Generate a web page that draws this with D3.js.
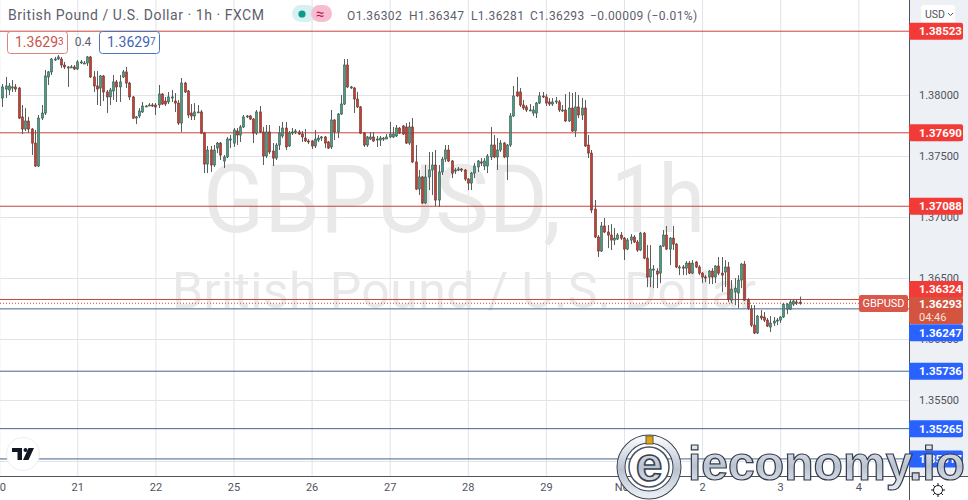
<!DOCTYPE html>
<html>
<head>
<meta charset="utf-8">
<style>
  html, body { margin: 0; background: #fff; overflow: hidden; }
  text { font-family: Roboto, sans-serif; }
</style>
</head>
<body>
<svg width="968" height="500"></svg>
<script src="https://cdn.jsdelivr.net/npm/d3@7"></script>
<script>
// hourly GBPUSD candles, first bar is number -23 (bar 0 = 21st 00:00)
const firstBar = -23;

const opens = [
  1.37975,1.38049,1.38041,1.38057,1.38066,1.38057,1.37820,1.37721,1.37787,1.37721,
  1.37606,1.37418,1.37811,1.37852,1.38148,1.38189,1.38295,1.38295,1.38295,1.38246,
  1.38230,1.38230,1.38230,1.38213,1.38271,1.38262,1.38262,1.38312,1.38148,1.38074,
  1.38057,1.38156,1.38025,1.37984,1.38033,1.38107,1.38066,1.38148,1.38189,1.38098,
  1.37984,1.37811,1.37828,1.37861,1.37910,1.37918,1.37918,1.37918,1.37918,1.38008,
  1.37951,1.37943,1.37975,1.37951,1.37934,1.37770,1.38098,1.38033,1.37852,1.37828,
  1.37861,1.37861,1.37688,1.37434,1.37549,1.37426,1.37565,1.37606,1.37459,1.37492,
  1.37639,1.37606,1.37705,1.37672,1.37738,1.37820,1.37828,1.37803,1.37688,1.37861,
  1.37697,1.37500,1.37697,1.37541,1.37483,1.37590,1.37664,1.37729,1.37582,1.37697,
  1.37697,1.37697,1.37680,1.37647,1.37623,1.37623,1.37582,1.37631,1.37647,1.37656,
  1.37615,1.37574,1.37795,1.37697,1.37844,1.37926,1.38246,1.38066,1.38057,1.37967,
  1.37902,1.37688,1.37590,1.37639,1.37656,1.37639,1.37631,1.37639,1.37639,1.37656,
  1.37656,1.37664,1.37729,1.37746,1.37738,1.37606,1.37738,1.37451,1.37229,1.37328,
  1.37115,1.37328,1.37385,1.37426,1.37139,1.37369,1.37475,1.37549,1.37459,1.37377,
  1.37393,1.37393,1.37385,1.37311,1.37278,1.37360,1.37410,1.37451,1.37418,1.37418,
  1.37492,1.37590,1.37492,1.37549,1.37606,1.37492,1.37590,1.37828,1.38025,1.38025,
  1.37918,1.37902,1.37877,1.37852,1.37852,1.37934,1.37992,1.37984,1.37943,1.37926,
  1.37943,1.37943,1.37877,1.37877,1.37787,1.37893,1.37705,1.37902,1.37836,1.37893,
  1.37590,1.37524,1.37065,1.36836,1.36721,1.36926,1.36877,1.36852,1.36811,1.36819,
  1.36852,1.36827,1.36737,1.36811,1.36836,1.36795,1.36729,1.36868,1.36663,1.36508,
  1.36573,1.36557,1.36540,1.36762,1.36852,1.36737,1.36827,1.36778,1.36590,1.36590,
  1.36581,1.36622,1.36540,1.36631,1.36590,1.36540,1.36508,1.36508,1.36557,1.36508,
  1.36598,1.36540,1.36549,1.36590,1.36319,1.36385,1.36377,1.36483,1.36614,1.36319,
  1.36245,1.36114,1.36049,1.36188,1.36180,1.36155,1.36098,1.36131,1.36147,1.36155,
  1.36180,1.36245,1.36245,1.36286,1.36303,1.36302
];
const closes = [
  1.38066,1.38074,1.38074,1.38066,1.38049,1.37811,1.37721,1.37787,1.37721,1.37606,
  1.37418,1.37811,1.37852,1.38156,1.38189,1.38295,1.38295,1.38312,1.38246,1.38230,
  1.38230,1.38230,1.38213,1.38271,1.38271,1.38262,1.38312,1.38148,1.38074,1.38049,
  1.38156,1.38025,1.37984,1.38041,1.38107,1.38066,1.38107,1.38189,1.38098,1.37984,
  1.37811,1.37820,1.37869,1.37910,1.37910,1.37918,1.37910,1.37902,1.38008,1.37926,
  1.37926,1.37984,1.37984,1.37934,1.37770,1.38098,1.38025,1.37836,1.37828,1.37861,
  1.37861,1.37688,1.37434,1.37549,1.37426,1.37549,1.37606,1.37508,1.37492,1.37639,
  1.37639,1.37713,1.37672,1.37738,1.37820,1.37828,1.37803,1.37688,1.37861,1.37697,
  1.37500,1.37697,1.37533,1.37483,1.37590,1.37688,1.37729,1.37574,1.37688,1.37697,
  1.37705,1.37680,1.37656,1.37623,1.37615,1.37582,1.37639,1.37647,1.37656,1.37606,
  1.37565,1.37795,1.37697,1.37844,1.37926,1.38246,1.38066,1.38066,1.37967,1.37902,
  1.37688,1.37590,1.37656,1.37656,1.37623,1.37639,1.37647,1.37647,1.37656,1.37680,
  1.37680,1.37729,1.37688,1.37680,1.37606,1.37738,1.37451,1.37229,1.37328,1.37115,
  1.37328,1.37385,1.37426,1.37139,1.37369,1.37475,1.37549,1.37459,1.37360,1.37385,
  1.37393,1.37385,1.37311,1.37278,1.37360,1.37418,1.37459,1.37442,1.37459,1.37500,
  1.37590,1.37492,1.37549,1.37606,1.37492,1.37590,1.37828,1.37992,1.37992,1.37918,
  1.37893,1.37877,1.37877,1.37877,1.37934,1.37992,1.37984,1.37934,1.37926,1.37943,
  1.37951,1.37877,1.37877,1.37787,1.37893,1.37705,1.37902,1.37836,1.37893,1.37582,
  1.37524,1.37057,1.36836,1.36721,1.36926,1.36877,1.36852,1.36811,1.36827,1.36852,
  1.36827,1.36737,1.36811,1.36836,1.36795,1.36729,1.36868,1.36663,1.36508,1.36573,
  1.36573,1.36532,1.36762,1.36852,1.36737,1.36827,1.36778,1.36590,1.36590,1.36581,
  1.36622,1.36540,1.36622,1.36590,1.36540,1.36508,1.36500,1.36557,1.36508,1.36598,
  1.36540,1.36524,1.36590,1.36327,1.36409,1.36417,1.36483,1.36614,1.36319,1.36253,
  1.36114,1.36049,1.36188,1.36172,1.36155,1.36106,1.36131,1.36147,1.36155,1.36180,
  1.36286,1.36286,1.36303,1.36311,1.36294,1.36293
];
const highs = [
  1.38090,1.38148,1.38098,1.38123,1.38090,1.38066,1.37918,1.37893,1.37820,1.37729,
  1.37713,1.37836,1.37918,1.38205,1.38197,1.38303,1.38312,1.38328,1.38312,1.38271,
  1.38238,1.38246,1.38246,1.38287,1.38287,1.38279,1.38320,1.38320,1.38197,1.38197,
  1.38164,1.38164,1.38041,1.38057,1.38164,1.38123,1.38164,1.38205,1.38230,1.38107,
  1.37992,1.37828,1.37893,1.37943,1.37918,1.37934,1.37934,1.37934,1.38082,1.38016,
  1.37984,1.38025,1.38041,1.38016,1.37959,1.38139,1.38107,1.38041,1.37926,1.37934,
  1.37918,1.37877,1.37697,1.37582,1.37582,1.37590,1.37615,1.37615,1.37508,1.37656,
  1.37672,1.37729,1.37729,1.37754,1.37836,1.37836,1.37836,1.37811,1.37877,1.37910,
  1.37738,1.37754,1.37754,1.37606,1.37606,1.37746,1.37779,1.37779,1.37705,1.37729,
  1.37721,1.37713,1.37705,1.37721,1.37639,1.37631,1.37713,1.37672,1.37664,1.37664,
  1.37623,1.37877,1.37803,1.37852,1.38000,1.38295,1.38295,1.38074,1.38066,1.38025,
  1.37910,1.37697,1.37664,1.37697,1.37697,1.37664,1.37664,1.37656,1.37680,1.37779,
  1.37738,1.37754,1.37738,1.37754,1.37770,1.37779,1.37811,1.37590,1.37385,1.37336,
  1.37426,1.37533,1.37533,1.37549,1.37426,1.37492,1.37590,1.37590,1.37467,1.37402,
  1.37410,1.37402,1.37393,1.37319,1.37369,1.37442,1.37467,1.37483,1.37483,1.37516,
  1.37738,1.37672,1.37647,1.37631,1.37615,1.37598,1.37852,1.38074,1.38148,1.38057,
  1.37959,1.37918,1.37926,1.37910,1.37943,1.38025,1.38025,1.38008,1.37975,1.37975,
  1.37984,1.37959,1.37918,1.38008,1.38025,1.38016,1.38025,1.38000,1.37975,1.37959,
  1.37672,1.37549,1.37139,1.36852,1.36959,1.36992,1.36934,1.36942,1.36909,1.36868,
  1.36877,1.36836,1.36827,1.36860,1.36852,1.36811,1.36877,1.36877,1.36770,1.36770,
  1.36606,1.36581,1.36770,1.36893,1.36926,1.36836,1.36926,1.36786,1.36606,1.36606,
  1.36639,1.36639,1.36647,1.36639,1.36606,1.36549,1.36524,1.36565,1.36581,1.36606,
  1.36672,1.36672,1.36647,1.36631,1.36483,1.36499,1.36524,1.36622,1.36639,1.36335,
  1.36278,1.36278,1.36196,1.36237,1.36221,1.36172,1.36188,1.36180,1.36172,1.36188,
  1.36294,1.36294,1.36319,1.36327,1.36327,1.36347
];
const lows = [
  1.37902,1.37975,1.38000,1.38025,1.38025,1.37803,1.37680,1.37705,1.37688,1.37508,
  1.37410,1.37410,1.37795,1.37836,1.38082,1.38164,1.38279,1.38287,1.38221,1.38213,
  1.38066,1.38221,1.38205,1.38205,1.38254,1.38254,1.38238,1.38139,1.38025,1.37918,
  1.37910,1.37951,1.37852,1.37918,1.37959,1.37943,1.37943,1.38139,1.38057,1.37959,
  1.37803,1.37762,1.37811,1.37852,1.37902,1.37910,1.37902,1.37836,1.37893,1.37918,
  1.37910,1.37926,1.37943,1.37861,1.37754,1.37697,1.38016,1.37811,1.37795,1.37795,
  1.37852,1.37680,1.37360,1.37360,1.37369,1.37410,1.37524,1.37467,1.37402,1.37483,
  1.37565,1.37574,1.37590,1.37615,1.37729,1.37811,1.37795,1.37606,1.37672,1.37688,
  1.37426,1.37483,1.37516,1.37418,1.37467,1.37549,1.37647,1.37549,1.37574,1.37672,
  1.37680,1.37672,1.37615,1.37615,1.37598,1.37557,1.37565,1.37615,1.37623,1.37565,
  1.37557,1.37557,1.37631,1.37647,1.37836,1.37918,1.38057,1.38049,1.37852,1.37893,
  1.37680,1.37574,1.37574,1.37631,1.37615,1.37574,1.37582,1.37623,1.37639,1.37647,
  1.37647,1.37656,1.37680,1.37672,1.37598,1.37590,1.37442,1.37221,1.37180,1.37106,
  1.37106,1.37221,1.37180,1.37090,1.37082,1.37344,1.37451,1.37451,1.37319,1.37352,
  1.37377,1.37369,1.37295,1.37221,1.37221,1.37319,1.37369,1.37418,1.37385,1.37360,
  1.37467,1.37483,1.37385,1.37533,1.37483,1.37303,1.37574,1.37820,1.37984,1.37902,
  1.37877,1.37861,1.37869,1.37828,1.37811,1.37926,1.37975,1.37910,1.37910,1.37910,
  1.37926,1.37861,1.37861,1.37779,1.37779,1.37697,1.37656,1.37811,1.37795,1.37574,
  1.37483,1.37032,1.36827,1.36672,1.36713,1.36868,1.36745,1.36729,1.36770,1.36811,
  1.36811,1.36647,1.36729,1.36778,1.36786,1.36713,1.36721,1.36655,1.36425,1.36425,
  1.36417,1.36417,1.36458,1.36754,1.36729,1.36606,1.36729,1.36581,1.36524,1.36524,
  1.36524,1.36532,1.36532,1.36581,1.36524,1.36458,1.36466,1.36450,1.36450,1.36458,
  1.36524,1.36385,1.36425,1.36303,1.36294,1.36278,1.36253,1.36417,1.36311,1.36237,
  1.36098,1.36040,1.36040,1.36155,1.36139,1.36098,1.36057,1.36106,1.36114,1.36131,
  1.36172,1.36204,1.36237,1.36270,1.36278,1.36281
];

const priceTicks = [1.38, 1.375, 1.37, 1.365, 1.36, 1.355, 1.35];
const dayBars = [-24, 0, 24, 48, 72, 96, 120, 144, 168, 192, 216, 240];
const dayLabels = ['20', '21', '22', '25', '26', '27', '28', '29', 'Nov', '2', '3', '4'];

const redLevels = [1.38523, 1.3769, 1.37088, 1.36324];
const blueLevels = [1.36247, 1.35736, 1.35265, 1.35017];
const lastPrice = 1.36293;

const plotW = 909;
const plotH = 476;
const axisFont = '#50535e';

const x = d3.scaleLinear().domain([0, 24]).range([77.3, 155.4]);
const y = d3.scaleLinear().domain([1.38, 1.355]).range([95, 400]);

const svg = d3.select('svg');

const defs = svg.append('defs');
defs
  .append('clipPath')
  .attr('id', 'plot')
  .append('rect')
  .attr('width', plotW)
  .attr('height', plotH);
const silver = defs
  .append('linearGradient')
  .attr('id', 'silver')
  .attr('x1', 0)
  .attr('y1', 0)
  .attr('x2', 0)
  .attr('y2', 1);
silver.append('stop').attr('offset', '0%').attr('stop-color', '#f6f8fb');
silver.append('stop').attr('offset', '55%').attr('stop-color', '#b9c2d0');
silver.append('stop').attr('offset', '100%').attr('stop-color', '#e8ecf2');

// axes also give the gridlines
const yAxis = d3
  .axisRight(y)
  .tickValues(priceTicks)
  .tickFormat(d3.format('.5f'))
  .tickSize(-plotW)
  .tickPadding(10);
const xAxis = d3
  .axisBottom(x)
  .tickValues(dayBars)
  .tickFormat((d, i) => dayLabels[i])
  .tickSize(-plotH)
  .tickPadding(7);

svg
  .append('rect')
  .attr('x', plotW)
  .attr('width', 968 - plotW)
  .attr('height', plotH)
  .attr('fill', '#edf0f4');

const gY = svg.append('g').attr('transform', `translate(${plotW},0)`).call(yAxis);
const gX = svg.append('g').attr('transform', `translate(0,${plotH})`).call(xAxis);
[gY, gX].forEach((g) => {
  g.select('.domain').remove();
  g.selectAll('line').attr('stroke', '#e1e3e8');
  g.selectAll('text').attr('fill', axisFont).style('font-size', '11px');
});
gY.selectAll('text').attr('text-anchor', 'start');

// watermark
const mark = svg.append('g').attr('fill', '#e9e9ea').attr('text-anchor', 'start');
mark
  .append('text')
  .attr('x', 203)
  .attr('y', 232)
  .attr('textLength', 358)
  .attr('lengthAdjust', 'spacingAndGlyphs')
  .style('font-size', '94px')
  .text('GBPUSD,');
mark
  .append('text')
  .attr('x', 611)
  .attr('y', 232)
  .attr('textLength', 94)
  .attr('lengthAdjust', 'spacingAndGlyphs')
  .style('font-size', '94px')
  .text('1h');
mark
  .append('text')
  .attr('x', 172)
  .attr('y', 308)
  .attr('textLength', 584)
  .attr('lengthAdjust', 'spacing')
  .style('font-size', '50px')
  .text('British Pound / U.S. Dollar');

const plot = svg.append('g').attr('clip-path', 'url(#plot)');

// level lines
plot
  .selectAll('.red-level')
  .data(redLevels)
  .enter()
  .append('line')
  .attr('x2', plotW)
  .attr('y1', (d) => y(d))
  .attr('y2', (d) => y(d))
  .attr('stroke', '#c4453c')
  .attr('stroke-width', 1);
plot
  .selectAll('.blue-level')
  .data(blueLevels)
  .enter()
  .append('line')
  .attr('x2', plotW)
  .attr('y1', (d) => y(d))
  .attr('y2', (d) => y(d))
  .attr('stroke', '#45648c')
  .attr('stroke-width', 1);
plot
  .append('line')
  .attr('x2', plotW)
  .attr('y1', y(lastPrice))
  .attr('y2', y(lastPrice))
  .attr('stroke', '#d9483b')
  .attr('stroke-dasharray', '1 2');

// candles
const candles = opens.map((o, i) => ({
  bar: firstBar + i,
  o,
  c: closes[i],
  h: highs[i],
  l: lows[i],
}));

const bars = plot
  .selectAll('.candle')
  .data(candles)
  .enter()
  .append('g')
  .attr('class', 'candle')
  .attr('transform', (d) => `translate(${Math.round(x(d.bar))},0)`);
bars
  .append('line')
  .attr('x1', 0.5)
  .attr('x2', 0.5)
  .attr('y1', (d) => y(d.h))
  .attr('y2', (d) => y(d.l))
  .attr('stroke', '#5a5f5c');
bars
  .append('rect')
  .attr('x', -0.5)
  .attr('width', 2)
  .attr('y', (d) => y(Math.max(d.o, d.c)))
  .attr('height', (d) => Math.max(1, Math.abs(y(d.o) - y(d.c))))
  .attr('fill', (d) => (d.c >= d.o ? '#4f9a82' : '#c23f32'))
  .attr('stroke', (d) => (d.c >= d.o ? '#33574a' : '#6f3028'))
  .attr('stroke-width', 0.6);

// frame
svg
  .append('line')
  .attr('x1', plotW + 0.5)
  .attr('x2', plotW + 0.5)
  .attr('y2', 500)
  .attr('stroke', axisFont);
svg
  .append('line')
  .attr('x2', 968)
  .attr('y1', plotH + 0.5)
  .attr('y2', plotH + 0.5)
  .attr('stroke', axisFont);

// header
svg
  .append('text')
  .attr('x', 8)
  .attr('y', 20)
  .attr('fill', '#5d606b')
  .style('font-size', '14px')
  .style('letter-spacing', '0.55px')
  .text('British Pound / U.S. Dollar · 1h · FXCM');
svg
  .append('rect')
  .attr('x', 292)
  .attr('y', 5)
  .attr('width', 24)
  .attr('height', 17)
  .attr('rx', 8.5)
  .attr('fill', '#d8f0f2');
svg
  .append('rect')
  .attr('x', 311)
  .attr('y', 5)
  .attr('width', 21)
  .attr('height', 17)
  .attr('rx', 8.5)
  .attr('fill', '#f8bbd0');
svg.append('circle').attr('cx', 302).attr('cy', 14).attr('r', 3.6).attr('fill', '#0e9a88');
svg
  .append('text')
  .attr('x', 320)
  .attr('y', 19)
  .attr('text-anchor', 'middle')
  .attr('fill', '#b0215a')
  .style('font-size', '15px')
  .text('≈');

const ohlc = svg
  .append('text')
  .attr('y', 20)
  .attr('fill', '#5d606b')
  .style('font-size', '12px')
  .style('letter-spacing', '0.4px');
[
  [347, 'O1.36302'],
  [409, 'H1.36347'],
  [471, 'L1.36281'],
  [530, 'C1.36293'],
  [590, '−0.00009 (−0.01%)'],
].forEach(([px, t]) => ohlc.append('tspan').attr('x', px).text(t));

// buy/sell boxes
[
  [7, '#d9847e', '#c9534a', '1.3629', '3'],
  [99, '#4a74c4', '#3f66b4', '1.3629', '7'],
].forEach(([bx, edge, ink, main, small]) => {
  svg
    .append('rect')
    .attr('x', bx + 0.5)
    .attr('y', 31.5)
    .attr('width', 60)
    .attr('height', 22)
    .attr('rx', 3)
    .attr('fill', '#fff')
    .attr('stroke', edge);
  const t = svg
    .append('text')
    .attr('x', bx + 8)
    .attr('y', 47)
    .attr('fill', ink)
    .style('font-size', '14px')
    .text(main);
  t.append('tspan').attr('dy', -2).style('font-size', '10px').text(small);
});
svg
  .append('text')
  .attr('x', 83)
  .attr('y', 46)
  .attr('text-anchor', 'middle')
  .attr('fill', '#5d606b')
  .style('font-size', '12px')
  .text('0.4');

// USD button
svg
  .append('rect')
  .attr('x', 921)
  .attr('y', 5)
  .attr('width', 34)
  .attr('height', 19)
  .attr('rx', 3)
  .attr('fill', '#fff');
svg
  .append('text')
  .attr('x', 925)
  .attr('y', 18)
  .attr('fill', axisFont)
  .style('font-size', '10.5px')
  .text('USD');
svg
  .append('path')
  .attr('d', 'M948,13 l2.5,2.5 l2.5,-2.5')
  .attr('fill', 'none')
  .attr('stroke', axisFont);

// price labels, two of them are pushed aside so they do not overlap
const labelShift = { 1.36324: -10, 1.36247: 24 };
const priceLabel = (value, fill) => {
  const cy = y(value) + (labelShift[value] || 0);
  svg
    .append('rect')
    .attr('x', plotW)
    .attr('y', cy - 8.5)
    .attr('width', 54)
    .attr('height', 17)
    .attr('rx', 2)
    .attr('fill', fill);
  svg
    .append('text')
    .attr('x', 919)
    .attr('y', cy + 4)
    .attr('fill', '#fff')
    .attr('font-weight', 700)
    .style('font-size', '11.5px')
    .text(d3.format('.5f')(value));
};
redLevels.forEach((d) => priceLabel(d, '#f23b36'));

// last price box + symbol tag
svg
  .append('rect')
  .attr('x', plotW)
  .attr('y', 297)
  .attr('width', 54)
  .attr('height', 27)
  .attr('rx', 2)
  .attr('fill', '#d4553f');
svg
  .append('text')
  .attr('x', 919)
  .attr('y', 308)
  .attr('fill', '#fff')
  .attr('font-weight', 700)
  .style('font-size', '11.5px')
  .text(d3.format('.5f')(lastPrice));
svg
  .append('text')
  .attr('x', 919)
  .attr('y', 321)
  .attr('fill', '#f7e1da')
  .style('font-size', '11px')
  .text('04:46');
svg
  .append('rect')
  .attr('x', 859)
  .attr('y', 295)
  .attr('width', 49)
  .attr('height', 17)
  .attr('rx', 2)
  .attr('fill', '#d9584a');
svg
  .append('text')
  .attr('x', 883.5)
  .attr('y', 307)
  .attr('text-anchor', 'middle')
  .attr('fill', '#fff')
  .style('font-size', '11px')
  .text('GBPUSD');
blueLevels.forEach((d) => priceLabel(d, '#2962ff'));

// tradingview badge
const badge = svg.append('g');
badge
  .append('circle')
  .attr('cx', 23)
  .attr('cy', 454)
  .attr('r', 16.5)
  .attr('fill', '#fff')
  .attr('stroke', '#eceef2');
badge
  .append('path')
  .attr('d', 'M12,448 h10 v12 h-4.5 v-8 h-5.5 z M28.5,448 h5.5 l-5.5,12 h-5.5 z')
  .attr('fill', '#131722');
badge.append('circle').attr('cx', 25.5).attr('cy', 450).attr('r', 2).attr('fill', '#131722');

// settings icon
const gear = svg.append('g').attr('stroke', '#131722').attr('fill', 'none');
gear.append('circle').attr('cx', 938).attr('cy', 490).attr('r', 4.5);
d3.range(8).forEach((i) => {
  const a = (i * Math.PI) / 4;
  gear
    .append('line')
    .attr('x1', 938 + 4.5 * Math.cos(a))
    .attr('y1', 490 + 4.5 * Math.sin(a))
    .attr('x2', 938 + 7 * Math.cos(a))
    .attr('y2', 490 + 7 * Math.sin(a));
});

// ieconomy.io stamp on top of the chart
const logo = svg.append('g');
logo
  .append('circle')
  .attr('cx', 649)
  .attr('cy', 467)
  .attr('r', 28)
  .attr('fill', 'none')
  .attr('stroke', '#3a4252')
  .attr('stroke-width', 9);
logo
  .append('circle')
  .attr('cx', 649)
  .attr('cy', 467)
  .attr('r', 28)
  .attr('fill', 'none')
  .attr('stroke', 'url(#silver)')
  .attr('stroke-width', 7);
logo
  .append('circle')
  .attr('cx', 649)
  .attr('cy', 467)
  .attr('r', 20)
  .attr('fill', '#fff')
  .attr('stroke', '#4a5262')
  .attr('stroke-width', 1.5);
logo
  .append('rect')
  .attr('x', 646)
  .attr('y', 436)
  .attr('width', 7)
  .attr('height', 8)
  .attr('fill', '#d8a521')
  .attr('stroke', '#6d5a22');
logo
  .append('text')
  .attr('x', 649)
  .attr('y', 481)
  .attr('text-anchor', 'middle')
  .attr('fill', 'url(#silver)')
  .attr('stroke', '#3a4252')
  .attr('stroke-width', 1.6)
  .attr('font-weight', 700)
  .style('font-family', '"Liberation Sans", sans-serif')
  .style('font-size', '48px')
  .text('e');
logo
  .append('text')
  .attr('x', 688)
  .attr('y', 480)
  .attr('textLength', 277)
  .attr('lengthAdjust', 'spacingAndGlyphs')
  .attr('fill', 'url(#silver)')
  .attr('stroke', '#343b4a')
  .attr('stroke-width', 1.2)
  .attr('font-weight', 700)
  .style('font-family', '"Liberation Sans", sans-serif')
  .style('font-size', '48px')
  .text('ieconomy.io');
</script>
</body>
</html>
